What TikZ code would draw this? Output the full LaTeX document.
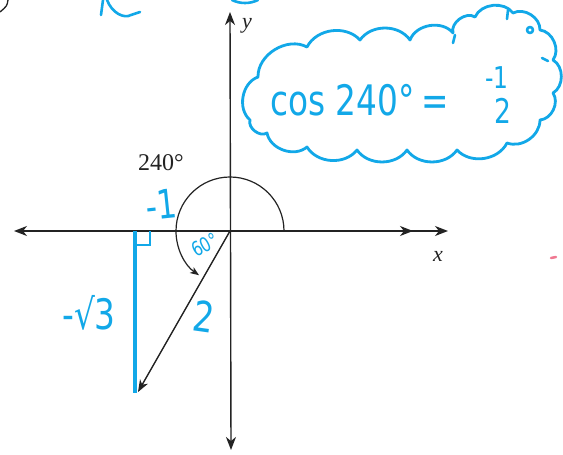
\documentclass[tikz,border=0pt]{standalone}
\usepackage{fontspec}
\setmainfont{Liberation Serif}
\newfontfamily\hand[FakeStretch=0.78]{DejaVu Sans}
\usetikzlibrary{arrows.meta}
\definecolor{pen}{RGB}{18,168,232}
\definecolor{ink}{RGB}{35,35,35}
\definecolor{pinkmark}{RGB}{240,120,145}
\tikzset{
  axisline/.style={draw=ink,line width=1.4pt},
  penline/.style={draw=pen,line width=3.6pt},
  penthin/.style={draw=pen,line width=2.6pt,line cap=round,line join=round},
  handtext/.style={text=pen,inner sep=0pt,font=\hand},
  serif/.style={text=ink,inner sep=0pt}
}
\begin{document}
\begin{tikzpicture}[x=1pt,y=1pt]
\useasboundingbox (0,0) rectangle (563,455);
\fill[white] (0,0) rectangle (563,455);
% axes
\coordinate (O) at (230,224);
\coordinate (xl) at (14,224);
\coordinate (xr) at (448,224);
\coordinate (x2a) at (395,224);
\coordinate (x2) at (413,224);
\coordinate (yt) at (230,443);
\coordinate (yb) at (231,5);
\draw[axisline,{Stealth[length=13pt,width=10pt,inset=4pt]}-{Stealth[length=13pt,width=10pt,inset=4pt]}] (xl) -- (xr);
\draw[axisline,-{Stealth[length=13pt,width=10pt,inset=4pt]}] (x2a) -- (x2);
\draw[axisline,{Stealth[length=13pt,width=10pt,inset=4pt]}-{Stealth[length=13pt,width=10pt,inset=4pt]}] (yb) -- (yt);
\node[serif,font=\itshape\fontsize{22}{22}\selectfont] (ylab) at (247,429) {y};
\node[serif,font=\itshape\fontsize{22}{22}\selectfont] (xlab) at (438,199) {x};
% angle arc
\coordinate (a0) at (284,224);
\draw[draw=ink,line width=1.2pt,-{Stealth[length=9pt,width=7pt,inset=2.5pt]}] (a0) arc[start angle=0,end angle=235,radius=54];
\node[serif,font=\fontsize{24}{24}\selectfont] (ang) at (161,292) {240°};
% terminal side
\coordinate (P) at (138,63);
\draw[draw=ink,line width=1.4pt,-{Stealth[length=12pt,width=9pt,inset=3.5pt]}] (O) -- (P);
% blue triangle leg
\coordinate (B1) at (135,224);
\coordinate (B2) at (135,62);
\draw[penline] (B1) -- (B2);
\coordinate (R1) at (135,210);
\coordinate (R2) at (150,210);
\coordinate (R3) at (150,224);
\draw[draw=pen,line width=2.6pt] (R1) -- (R2) -- (R3);
% blue labels
\node[handtext,font=\hand\fontsize{40}{40}\selectfont,rotate=6] (m1) at (161,250) {-1};
\node[handtext,font=\hand\fontsize{20}{20}\selectfont,rotate=28] (sixty) at (205,210) {60°};
\node[handtext,font=\hand\fontsize{42}{42}\selectfont,rotate=-8] (two) at (204,138) {2};
\node[handtext,font=\hand\fontsize{42}{42}\selectfont] (r3) at (89,142) {-√3};
% cloud
\draw[penthin,line width=2.8pt]
  (250,335) to[bend left=60] (258,378) to[bend left=60] (307,408)
  to[bend left=55] (360,415) to[bend left=55] (410,415)
  to[bend left=60] (453,422) to[bend left=70] (475,438)
  to[bend left=60] (513,442) to[bend left=60] (540,425)
  to[bend left=60] (553,395) to[bend left=60] (553,362)
  to[bend left=60] (540,335) to[bend left=55] (507,312)
  to[bend left=55] (457,305) to[bend left=55] (407,305)
  to[bend left=55] (357,305) to[bend left=55] (307,308)
  to[bend left=60] (267,322) to[bend left=70] cycle;
\draw[penthin] (530,425) circle[radius=3];
\draw[penthin] (507,436) -- (508,445);
\draw[penthin] (542,397) -- (548,394);
\draw[penthin] (453,412) -- (455,420);
% cloud text
\node[handtext,font=\hand\fontsize{42}{42}\selectfont,anchor=base west] (cos) at (270,339) {cos 240°\,=};
\node[handtext,font=\hand\fontsize{30}{30}\selectfont] (num) at (497,377) {-1};
\node[handtext,font=\hand\fontsize{34}{34}\selectfont] (den) at (503,344) {2};
% cut-off fragments at top
\draw[draw=ink,line width=1.3pt] (8,455) .. controls (7,449) .. (0,443);
\draw[penthin] (103,455) .. controls (102,448) .. (101,440);
\draw[penthin] (107,455) .. controls (112,442) and (124,436) .. (131,440) .. controls (135,442) .. (140,443);
\draw[penthin] (232,455) .. controls (240,451) and (250,451) .. (258,455);
% stray mark
\draw[draw=pinkmark,line width=2.5pt,line cap=round] (551,197) -- (556,198);
\end{tikzpicture}
\end{document}
